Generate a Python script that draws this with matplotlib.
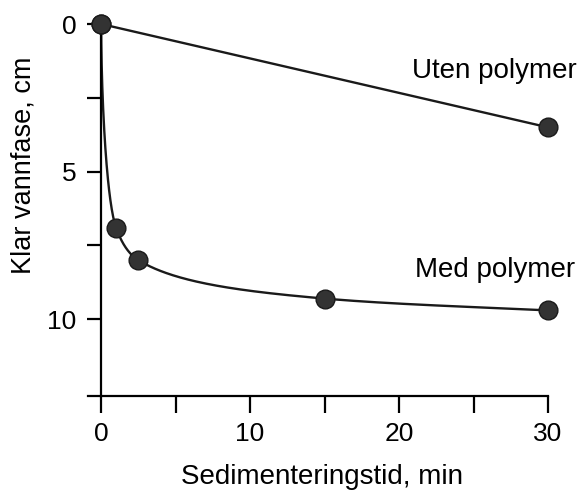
import matplotlib
matplotlib.use('Agg')
import matplotlib.pyplot as plt
import numpy as np

# Data
tid_uten = [0, 30]
fase_uten = [0, 3.5]
tid_med = [0, 1, 2.5, 15, 30]
fase_med = [0, 6.9, 8.0, 9.3, 9.7]


def monoton_kurve(x, y, n=300):
    # Smooth monotone curve (Fritsch-Carlson) drawn in sqrt(x)
    u = np.sqrt(np.asarray(x, float))
    y = np.asarray(y, float)
    h = np.diff(u)
    d = np.diff(y) / h
    m = np.zeros_like(y)
    m[0] = d[0]
    m[-1] = d[-1]
    for k in range(1, len(y) - 1):
        if d[k - 1] * d[k] <= 0:
            m[k] = 0
        else:
            w1 = 2 * h[k] + h[k - 1]
            w2 = h[k] + 2 * h[k - 1]
            m[k] = (w1 + w2) / (w1 / d[k - 1] + w2 / d[k])
    uu = np.linspace(u[0], u[-1], n)
    yy = np.empty_like(uu)
    for i, uv in enumerate(uu):
        k = min(np.searchsorted(u, uv, side='right') - 1, len(h) - 1)
        t = (uv - u[k]) / h[k]
        h00 = 2 * t**3 - 3 * t**2 + 1
        h10 = t**3 - 2 * t**2 + t
        h01 = -2 * t**3 + 3 * t**2
        h11 = t**3 - t**2
        yy[i] = h00 * y[k] + h10 * h[k] * m[k] + h01 * y[k + 1] + h11 * h[k] * m[k + 1]
    return uu**2, yy


plt.rcParams['font.family'] = ['Liberation Sans', 'DejaVu Sans']

fig = plt.figure(figsize=(5.88, 4.95), dpi=100)
ax = fig.add_axes([0.150, 0.200, 0.782, 0.7515])

farge = '#1a1a1a'
ax.plot(tid_uten, fase_uten, color=farge, lw=1.7, clip_on=False)
xs, ys = monoton_kurve(tid_med, fase_med)
ax.plot(xs, ys, color=farge, lw=1.7, clip_on=False)

ax.plot(tid_uten, fase_uten, 'o', ms=13.5, color='#333333', mec=farge, mew=1, clip_on=False, zorder=5)
ax.plot(tid_med, fase_med, 'o', ms=13.5, color='#333333', mec=farge, mew=1, clip_on=False, zorder=5)

ax.set_xlim(-0.87, 30)
ax.set_ylim(12.6, 0)

ax.spines['top'].set_visible(False)
ax.spines['right'].set_visible(False)
ax.spines['left'].set_position(('data', 0))
ax.spines['left'].set_linewidth(1.6)
ax.spines['bottom'].set_linewidth(1.6)

ax.set_xticks([0, 10, 20, 30])
ax.set_xticks([5, 15, 25], minor=True)
ax.set_yticks([0, 5, 10])
ax.set_yticks([2.5, 7.5], minor=True)
ax.tick_params(axis='x', which='both', direction='out', length=12, width=1.6, pad=7, labelsize=19)
ax.tick_params(axis='y', which='both', direction='out', length=10, width=1.6, pad=8, labelsize=19)

ax.set_xlabel('Sedimenteringstid, min', fontsize=20, va='center')
ax.xaxis.set_label_coords(0.509, -0.218)
ax.set_ylabel('Klar vannfase, cm', fontsize=19.5, va='center')
ax.yaxis.set_label_coords(-0.141, 0.62)

ax.text(20.9, 1.83, 'Uten polymer', fontsize=20, va='baseline')
ax.text(21.1, 8.58, 'Med polymer', fontsize=20, va='baseline')

plt.savefig('out.png', dpi=100)
